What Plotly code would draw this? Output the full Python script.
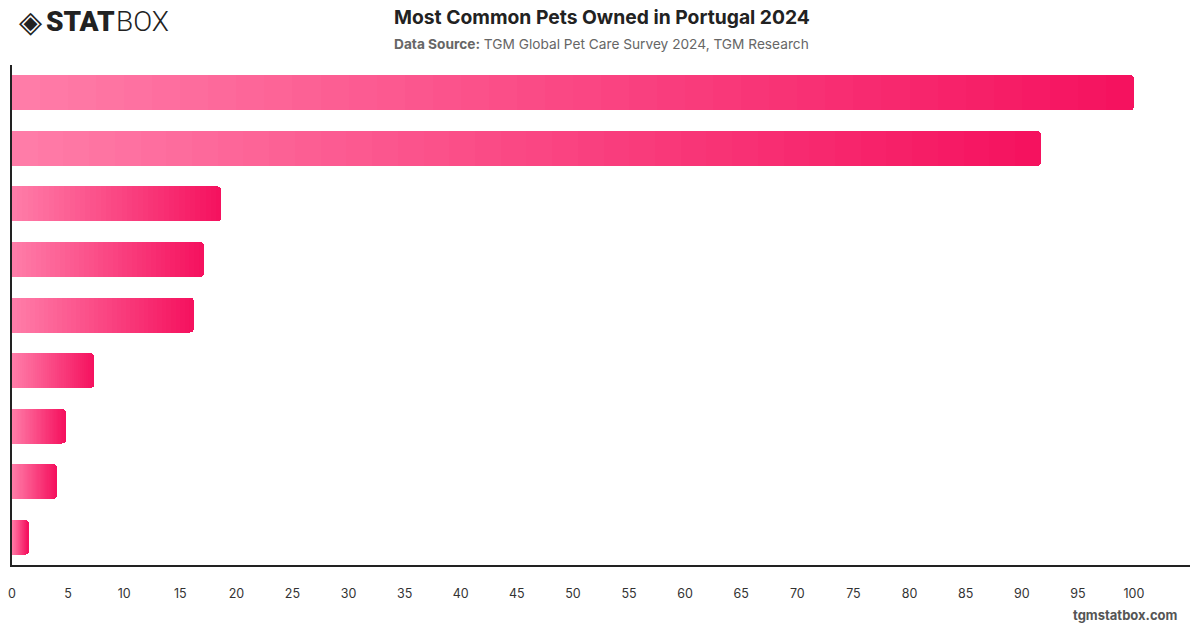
import plotly.graph_objects as go

categories = ["Dog", "Cat", "Bird", "Fish", "Turtle", "Rabbit", "Hamster", "Reptile", "Other"]
values = [100, 91.7, 18.65, 17.1, 16.2, 7.35, 4.76, 4.0, 1.44]
x_ticks = list(range(0, 101, 5))

W, H = 1200, 628
ML, MR, MT, MB = 8, 10, 65, 63
PW = W - ML - MR
PH = H - MT - MB

def px_x(px):
    return (px - ML) / PW

def px_y(py):
    return (H - MB - py) / PH

c0 = (255, 124, 168)
c1 = (245, 18, 95)
N = 40

fig = go.Figure()
for k in range(N):
    t = k / (N - 1)
    col = "rgb(%d,%d,%d)" % tuple(round(a + (b - a) * t) for a, b in zip(c0, c1))
    fig.add_trace(go.Bar(
        y=categories,
        x=[v / N for v in values],
        orientation="h",
        marker=dict(color=col, line=dict(width=0)),
        showlegend=False,
        hoverinfo="skip",
    ))

fig.update_layout(
    width=W, height=H,
    barmode="stack",
    bargap=0.37,
    barcornerradius=4,
    plot_bgcolor="white",
    paper_bgcolor="white",
    margin=dict(l=ML, r=MR, t=MT, b=MB),
    font=dict(family="Inter, Roboto, sans-serif", color="#333"),
    xaxis=dict(
        range=[0, 105],
        tickvals=x_ticks,
        ticktext=[str(v) for v in x_ticks],
        showgrid=False,
        zeroline=False,
        showline=True,
        linecolor="#222",
        linewidth=1.5,
        ticks="",
        ticklabelstandoff=16,
        tickfont=dict(size=12.5, color="#333"),
    ),
    yaxis=dict(
        categoryorder="array",
        categoryarray=categories[::-1],
        showticklabels=False,
        showgrid=False,
        zeroline=False,
        showline=True,
        linecolor="#222",
        linewidth=1.5,
        ticks="",
    ),
    annotations=[
        dict(text="<b>Most Common Pets Owned in Portugal 2024</b>",
             x=px_x(600), y=px_y(17), xref="paper", yref="paper",
             xanchor="center", yanchor="middle", showarrow=False,
             font=dict(size=19.3, color="#222")),
        dict(text="<b>Data Source:</b> TGM Global Pet Care Survey 2024, TGM Research",
             x=px_x(600), y=px_y(44), xref="paper", yref="paper",
             xanchor="center", yanchor="middle", showarrow=False,
             font=dict(size=13.7, color="#666")),
        dict(text="<b>tgmstatbox.com</b>",
             x=px_x(1180), y=px_y(615), xref="paper", yref="paper",
             xanchor="right", yanchor="middle", showarrow=False,
             font=dict(size=13, color="#555")),
        dict(text="◈",
             x=px_x(13), y=px_y(22), xref="paper", yref="paper",
             xanchor="left", yanchor="middle", showarrow=False,
             font=dict(size=30, color="#222", family="DejaVu Sans")),
        dict(text="STAT",
             x=px_x(40), y=px_y(22), xref="paper", yref="paper",
             xanchor="left", yanchor="middle", showarrow=False,
             font=dict(size=28, color="#222", family="Roboto, sans-serif", weight=900)),
        dict(text="BOX",
             x=px_x(110), y=px_y(22), xref="paper", yref="paper",
             xanchor="left", yanchor="middle", showarrow=False,
             font=dict(size=28, color="#222", family="Roboto, sans-serif", weight=300)),
    ],
)

fig.write_html("out.html")
